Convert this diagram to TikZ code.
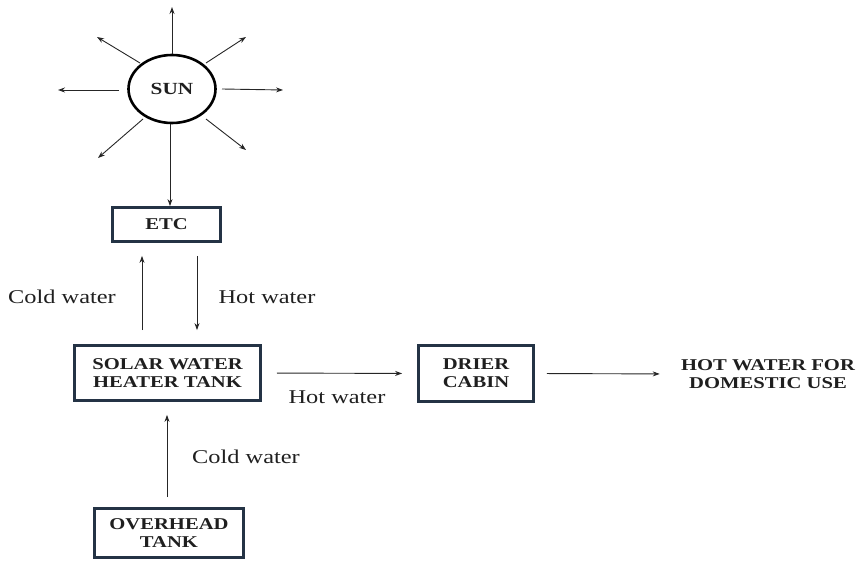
\documentclass[tikz,border=0pt]{standalone}
\usepackage{fontspec}
\setmainfont{Liberation Serif}[FakeStretch=1.25]
\usetikzlibrary{shapes.geometric,arrows.meta}
\definecolor{boxc}{rgb}{0.14,0.20,0.27}
\definecolor{txt}{rgb}{0.12,0.12,0.12}
\begin{document}
\begin{tikzpicture}[x=1pt,y=-1pt,
  box/.style={draw=boxc,line width=2.8pt,inner sep=0pt,align=center,text=txt,
    font=\bfseries\fontsize{16.5}{18}\selectfont},
  lbl/.style={inner sep=0pt,text=txt,font=\fontsize{19.5}{22}\selectfont},
  arr/.style={draw=black!85,line width=0.9pt,-{Stealth[length=7pt,width=5pt]}},
  ray/.style={arr}]
\useasboundingbox (0,0) rectangle (859,561);
% sun
\node[ellipse,draw=black,line width=2.6pt,minimum width=87pt,minimum height=68pt,inner sep=0pt,
  text=txt,font=\bfseries\fontsize{17}{18}\selectfont] (sun) at (172,89) {SUN};
% boxes
\node[box,minimum width=108pt,minimum height=34pt] (etc) at (166.5,224.5) {ETC};
\node[box,minimum width=186pt,minimum height=55pt] (swh) at (167.5,373) {SOLAR WATER\\HEATER TANK};
\node[box,minimum width=115pt,minimum height=56pt] (drier) at (476,373.5) {DRIER\\CABIN};
\node[box,minimum width=149pt,minimum height=49pt] (over) at (169,533) {OVERHEAD\\TANK};
\node[box,draw=none] (use) at (768,374) {HOT WATER FOR\\DOMESTIC USE};
% labels
\node[lbl] (l1) at (62,297) {Cold water};
\node[lbl] (l2) at (267,297) {Hot water};
\node[lbl] (l3) at (337,397) {Hot water};
\node[lbl] (l4) at (246,457) {Cold water};
% ray coordinates
\coordinate (u0) at (172,54);  \coordinate (u1) at (172,7);
\coordinate (ul0) at (140,63); \coordinate (ul1) at (97,37);
\coordinate (ur0) at (206,63); \coordinate (ur1) at (246,37);
\coordinate (le0) at (119,90); \coordinate (le1) at (58,90);
\coordinate (ri0) at (222,89); \coordinate (ri1) at (283,90);
\coordinate (dl0) at (143,119);\coordinate (dl1) at (98,158);
\coordinate (dr0) at (206,119);\coordinate (dr1) at (246,150);
\draw[ray] (u0) -- (u1);
\draw[ray] (ul0) -- (ul1);
\draw[ray] (ur0) -- (ur1);
\draw[ray] (le0) -- (le1);
\draw[ray] (ri0) -- (ri1);
\draw[ray] (dl0) -- (dl1);
\draw[ray] (dr0) -- (dr1);
% connectors
\coordinate (xs) at (170,0);
\coordinate (xa) at (142,0);
\coordinate (xb) at (197,0);
\coordinate (xc) at (167,0);
\draw[arr] (sun.south -| xs) -- (etc.north -| xs);
\draw[arr,shorten <=14pt,shorten >=13pt] (swh.north -| xa) -- (etc.south -| xa);
\draw[arr,shorten <=13pt,shorten >=14pt] (etc.south -| xb) -- (swh.north -| xb);
\draw[arr,shorten <=15pt,shorten >=15pt] (swh.east) -- (drier.west);
\draw[arr,shorten <=12pt,shorten >=20pt] (drier.east) -- (use.west);
\draw[arr,shorten <=10pt,shorten >=13pt] (over.north -| xc) -- (swh.south -| xc);
\end{tikzpicture}
\end{document}
